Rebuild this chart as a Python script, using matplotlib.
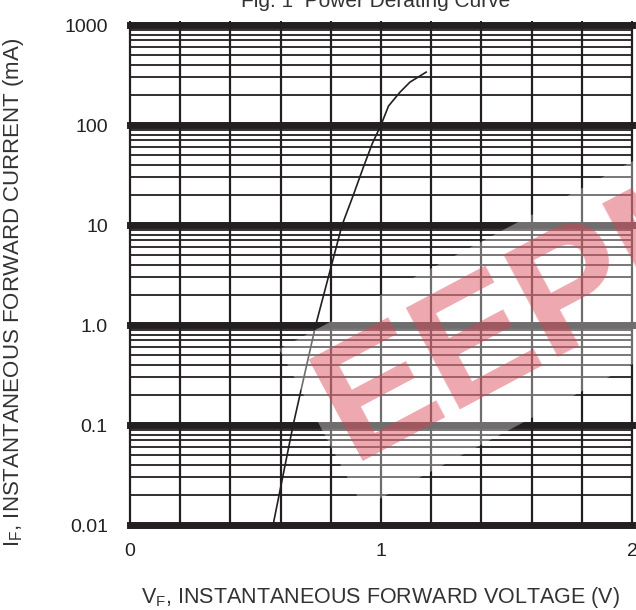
import numpy as np
import matplotlib
matplotlib.use("Agg")
import matplotlib.pyplot as plt
from matplotlib.ticker import FixedLocator, NullFormatter

plt.rcParams['font.family'] = ['Liberation Sans', 'DejaVu Sans']
plt.rcParams['mathtext.fontset'] = 'custom'
plt.rcParams['mathtext.rm'] = 'Liberation Sans'

# forward voltage (V) vs forward current (mA)
vf = [0.57, 0.65, 0.74, 0.845, 0.89, 0.93, 0.965, 1.0, 1.03, 1.075, 1.115, 1.18]
i_f = [0.01, 0.1, 1.0, 10, 20, 38, 65, 100, 155, 212, 268, 338]

y_ticks = [0.01, 0.1, 1, 10, 100, 1000]
y_labels = ['0.01', '0.1', '1.0', '10', '100', '1000']
x_ticks = [0, 1, 2]
x_labels = ['0', '1', '2']

ink = '#231f20'

fig = plt.figure(figsize=(6.36, 6.10), dpi=100)
ax = fig.add_axes([130/636, 85/610, 502/636, 500/610])

ax.set_xscale('linear')
ax.set_yscale('log')
ax.set_xlim(0, 2)
ax.set_ylim(0.01, 1000)

# grid: verticals every 0.2 V, thin minor lines, heavy decade lines
for x in np.arange(0.2, 2.0, 0.2):
    ax.axvline(x, color=ink, lw=1.6, zorder=1)
for d in [0.01, 0.1, 1, 10, 100]:
    for m in range(2, 10):
        ax.axhline(d * m, color=ink, lw=1.3, zorder=1)
for d in y_ticks:
    ax.axhline(d, color=ink, lw=5, zorder=1, clip_on=False)

ax.plot(vf, i_f, color=ink, lw=1.2, zorder=3)

for s in ax.spines.values():
    s.set_color(ink)
    s.set_linewidth(1.6)

ax.yaxis.set_major_locator(FixedLocator(y_ticks))
ax.yaxis.set_minor_locator(FixedLocator([]))
ax.set_yticklabels(y_labels)
ax.tick_params(axis='y', length=0, pad=16, labelsize=14, labelcolor='#222')

ax.xaxis.set_major_locator(FixedLocator(np.arange(0, 2.01, 0.2)))
ax.xaxis.set_major_formatter(NullFormatter())
ax.tick_params(axis='x', bottom=False, top=True, direction='out', length=3,
               width=1.5, color=ink)
for x, lab in zip(x_ticks, x_labels):
    ax.text(x, -0.052, lab, transform=ax.get_xaxis_transform(), ha='center',
            va='center', fontsize=14, color='#222')

fig.text(380/636, 1 - 597/610, r'V$_\mathregular{F}$, INSTANTANEOUS FORWARD VOLTAGE (V)',
         ha='center', va='center', fontsize=15.5, color='#333')
fig.text(14/636, 1 - 292/610, r'I$_\mathregular{F}$, INSTANTANEOUS FORWARD CURRENT (mA)',
         ha='center', va='center', rotation=90, fontsize=16, color='#333')
fig.text(376/636, 1 - 7/610, 'Fig. 1  Power Derating Curve', ha='center',
         va='baseline', fontsize=15, color='#333')

# watermark
fig.text(540/636, 1 - 312/610, 'EEPM', ha='center', va='center', rotation=28,
         rotation_mode='anchor', fontsize=120, fontweight='bold',
         color='#d9404f', alpha=0.45, zorder=5,
         bbox=dict(facecolor='white', alpha=0.35, edgecolor='none', pad=8))

fig.savefig('out.png', dpi=100)
